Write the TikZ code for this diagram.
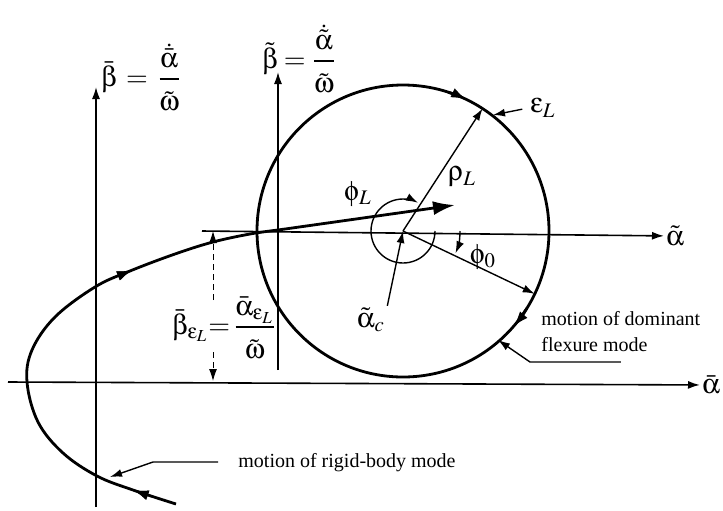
\documentclass[tikz,border=0pt]{standalone}
\usepackage{amsmath}
\usepackage{mathptmx}
\usepackage[Symbol]{upgreek}
\usepackage[no-math]{fontspec}
\setmainfont{Liberation Serif}
\usetikzlibrary{arrows.meta,decorations.markings}
\newcommand{\numsp}{\rule[-4pt]{0pt}{4pt}}
\newcommand{\densp}{\rule{0pt}{14pt}}
\begin{document}
\begin{tikzpicture}[x=0.5pt,y=-0.5pt,
  >={Latex[length=6pt,width=4pt]},
  axis/.style={line width=0.8pt,->},
  orbit/.style={line width=1.4pt},
  thin arrow/.style={line width=0.7pt,->},
  dim/.style={line width=0.5pt,densely dashed,->},
  lbl/.style={font=\fontsize{14}{16}\selectfont,inner sep=1pt},
  note/.style={font=\fontsize{10}{13}\selectfont,align=left,inner sep=0pt},
  midarrow/.style={postaction={decorate},decoration={markings,
    mark=at position #1 with {\arrow{Latex[length=8pt,width=5pt]}}}}]
\useasboundingbox (0,0) rectangle (723,510);
\coordinate (C) at (403,231);
\coordinate (ab0) at (8,382);
\coordinate (bb0) at (96,507);
\coordinate (bb1) at (96,87);
\coordinate (ta0) at (202,231);
\coordinate (tb0) at (278,370);
\coordinate (tb1) at (278,72);
\node[lbl,anchor=west] (abar) at (700,385) {$\bar\upalpha$};
\node[lbl,anchor=west] (atil) at (664,236) {$\tilde\upalpha$};
\node[lbl,anchor=base west] (bbar) at (99,86) {$\bar\upbeta \,=\, \dfrac{\dot{\bar\upalpha}\numsp}{\densp\tilde\upomega}$};
\node[lbl,anchor=base west] (btil) at (260,68) {$\tilde\upbeta = \dfrac{\dot{\tilde\upalpha}\numsp}{\densp\tilde\upomega}$};
\draw[axis] (ab0) -- (abar);
\draw[axis] (bb0) -- (bb1);
\draw[axis] (ta0) -- (atil);
\draw[axis] (tb0) -- (tb1);
\draw[orbit] (C) circle[radius=146];
\draw[orbit,-{Latex[length=8pt,width=5pt]}] (C) ++(-72:146) arc[start angle=-72,end angle=-64,radius=146];
\draw[orbit,-{Latex[length=8pt,width=5pt]}] (C) ++(32:146) arc[start angle=32,end angle=41,radius=146];
\path (C) ++(-57:146) coordinate (R);
\path (C) ++(25.5:146) coordinate (P0);
\draw[thin arrow] (C) -- (R);
\draw[thin arrow] (C) -- (P0);
\draw[thin arrow] (C) ++(0:57) arc[start angle=0,end angle=23,radius=57];
\draw[thin arrow] (C) ++(0:32) arc[start angle=0,end angle=298,radius=32];
\node[lbl] (rho) at (462,177) {$\uprho_L$};
\node[lbl] (phiL) at (358,194) {$\upphi_L$};
\node[lbl] (phi0) at (483,257) {$\upphi_0$};
\node[lbl] (ac) at (371,320) {$\tilde\upalpha_c$};
\draw[thin arrow] (ac.north east) -- (C);
\node[lbl] (eps) at (543,108) {$\upvarepsilon_L$};
\coordinate (et) at (493,115);
\draw[thin arrow,shorten <=3pt] (eps.west) -- (et);
\coordinate (T) at (455,205);
\draw[orbit,midarrow=0.065,midarrow=0.53,-{Latex[length=11pt,width=7pt]}]
  plot[smooth,tension=0.6] coordinates {(176,504) (133,490) (97,476) (63,453) (38,422) (27,382)
  (32,350) (55,317) (95,287) (130,271) (175,254) (213,242) (250,234) (278,230)} -- (T);
\node[lbl,anchor=base west] (bel) at (170,334) {$\bar\upbeta_{\upvarepsilon_L}\!\!=\!\dfrac{\bar\upalpha_{\upvarepsilon_L}\numsp}{\densp\tilde\upomega}$};
\coordinate (du) at (213,231);
\coordinate (dd) at (213,381);
\coordinate (dt) at (213,300);
\coordinate (db) at (213,352);
\draw[dim] (dt) -- (du);
\draw[dim] (db) -- (dd);
\node[note,anchor=base west] (rigid) at (238,467) {motion of rigid-body mode};
\coordinate (rk) at (153,462);
\coordinate (rt) at (110,477);
\draw[thin arrow,shorten <=10pt] (rigid.west |- rk) -- (rk) -- (rt);
\node[note,anchor=north west] (flex) at (541,311) {motion of dominant\\flexure mode};
\coordinate (fk) at (530,362);
\coordinate (ft) at (498,340);
\draw[thin arrow] (flex.south |- fk) -- (fk) -- (ft);
\end{tikzpicture}
\end{document}
